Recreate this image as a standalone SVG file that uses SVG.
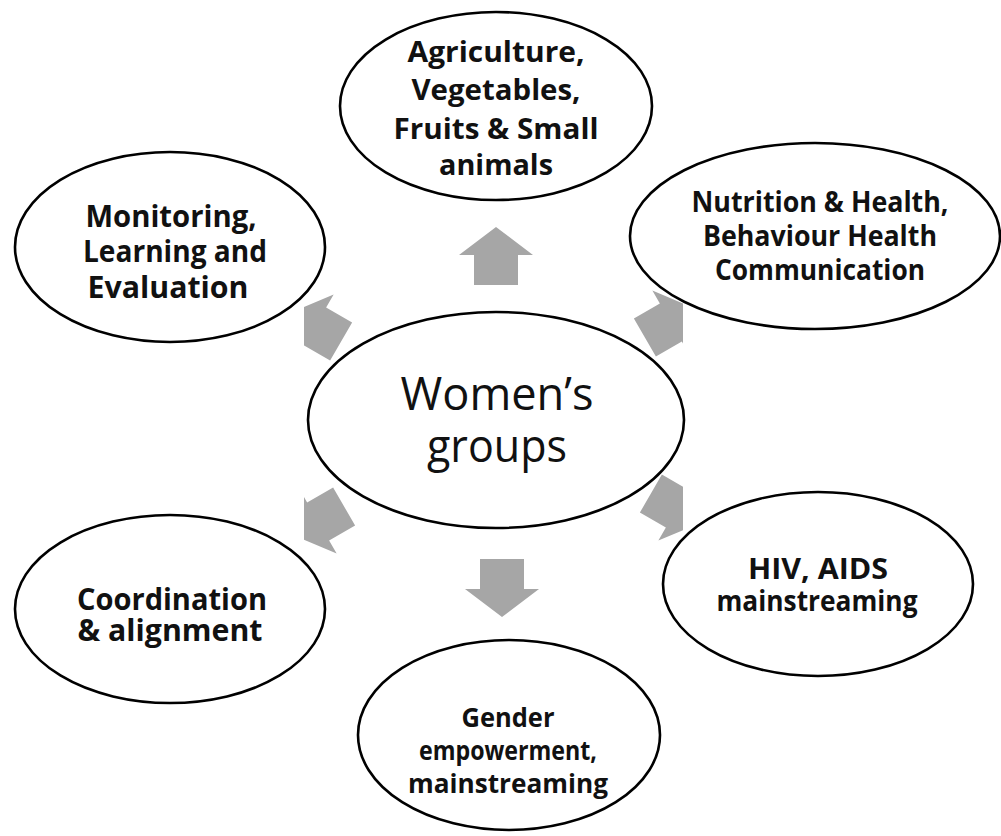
<svg xmlns="http://www.w3.org/2000/svg" xmlns:xlink="http://www.w3.org/1999/xlink" width="1001" height="836" viewBox="0 0 1001 836">
  <style>
    .node ellipse { fill: #ffffff; stroke: #000000; stroke-width: 2.6; }
    .lbl { font-family: "Open Sans", "Liberation Sans", sans-serif; font-weight: 700; fill: #111111; text-anchor: middle; }
    .hub { font-family: "Open Sans", "Liberation Sans", sans-serif; font-weight: 400; fill: #111111; text-anchor: middle; }
    .arrow { fill: #a6a6a6; }
  </style>
  <defs>
    <!-- block arrow pointing up, centred on the origin -->
    <path id="blk" d="M0,-29 L37,-1 L22,-1 L22,29 L-22,29 L-22,-1 L-37,-1 Z"/>
    <clipPath id="arrowClip">
      <rect x="304" y="0" width="379" height="836"/>
    </clipPath>
  </defs>
  <rect width="1001" height="836" fill="#ffffff"/>

  <g id="connectors" class="arrow" clip-path="url(#arrowClip)">
    <use xlink:href="#blk" href="#blk" transform="translate(496,256)"/>
    <use xlink:href="#blk" href="#blk" transform="translate(670,323) rotate(60)"/>
    <use xlink:href="#blk" href="#blk" transform="translate(676,508) rotate(120)"/>
    <use xlink:href="#blk" href="#blk" transform="translate(502,588) rotate(180)"/>
    <use xlink:href="#blk" href="#blk" transform="translate(319,521) rotate(240)"/>
    <use xlink:href="#blk" href="#blk" transform="translate(316,327) rotate(300)"/>
  </g>

  <g id="womens-groups" class="node">
    <ellipse cx="496" cy="420" rx="188" ry="108"/>
    <text class="hub" font-size="45" x="497" y="410" textLength="193" lengthAdjust="spacingAndGlyphs">Women’s</text>
    <text class="hub" font-size="45" x="497" y="462" textLength="140" lengthAdjust="spacingAndGlyphs">groups</text>
  </g>

  <g id="agriculture" class="node">
    <ellipse cx="496" cy="106" rx="156" ry="94"/>
    <text class="lbl" font-size="29" x="496" y="62" textLength="177" lengthAdjust="spacingAndGlyphs">Agriculture,</text>
    <text class="lbl" font-size="29" x="496" y="100" textLength="169" lengthAdjust="spacingAndGlyphs">Vegetables,</text>
    <text class="lbl" font-size="29" x="496" y="139" textLength="205" lengthAdjust="spacingAndGlyphs">Fruits &amp; Small</text>
    <text class="lbl" font-size="29" x="496" y="175" textLength="114" lengthAdjust="spacingAndGlyphs">animals</text>
  </g>

  <g id="nutrition" class="node">
    <ellipse cx="815" cy="236" rx="185" ry="93"/>
    <text class="lbl" font-size="28" x="820" y="212" textLength="257" lengthAdjust="spacingAndGlyphs">Nutrition &amp; Health,</text>
    <text class="lbl" font-size="28" x="820" y="246" textLength="234" lengthAdjust="spacingAndGlyphs">Behaviour Health</text>
    <text class="lbl" font-size="28" x="820" y="280" textLength="210" lengthAdjust="spacingAndGlyphs">Communication</text>
  </g>

  <g id="hiv-aids" class="node">
    <ellipse cx="818" cy="584" rx="155" ry="92"/>
    <text class="lbl" font-size="29" x="818" y="579" textLength="140" lengthAdjust="spacingAndGlyphs">HIV, AIDS</text>
    <text class="lbl" font-size="28" x="817" y="611" textLength="201" lengthAdjust="spacingAndGlyphs">mainstreaming</text>
  </g>

  <g id="gender" class="node">
    <ellipse cx="509" cy="735" rx="151" ry="95"/>
    <text class="lbl" font-size="27" x="508" y="727" textLength="93" lengthAdjust="spacingAndGlyphs">Gender</text>
    <text class="lbl" font-size="27" x="508" y="760" textLength="178" lengthAdjust="spacingAndGlyphs">empowerment,</text>
    <text class="lbl" font-size="27" x="508" y="793" textLength="200" lengthAdjust="spacingAndGlyphs">mainstreaming</text>
  </g>

  <g id="coordination" class="node">
    <ellipse cx="170" cy="609" rx="155" ry="94"/>
    <text class="lbl" font-size="31" x="172" y="610" textLength="190" lengthAdjust="spacingAndGlyphs">Coordination</text>
    <text class="lbl" font-size="31" x="170" y="641" textLength="185" lengthAdjust="spacingAndGlyphs">&amp; alignment</text>
  </g>

  <g id="monitoring" class="node">
    <ellipse cx="170" cy="247" rx="155" ry="95"/>
    <text class="lbl" font-size="30" x="171" y="227" textLength="171" lengthAdjust="spacingAndGlyphs">Monitoring,</text>
    <text class="lbl" font-size="30" x="175" y="262" textLength="184" lengthAdjust="spacingAndGlyphs">Learning and</text>
    <text class="lbl" font-size="30" x="168" y="298" textLength="161" lengthAdjust="spacingAndGlyphs">Evaluation</text>
  </g>
</svg>
